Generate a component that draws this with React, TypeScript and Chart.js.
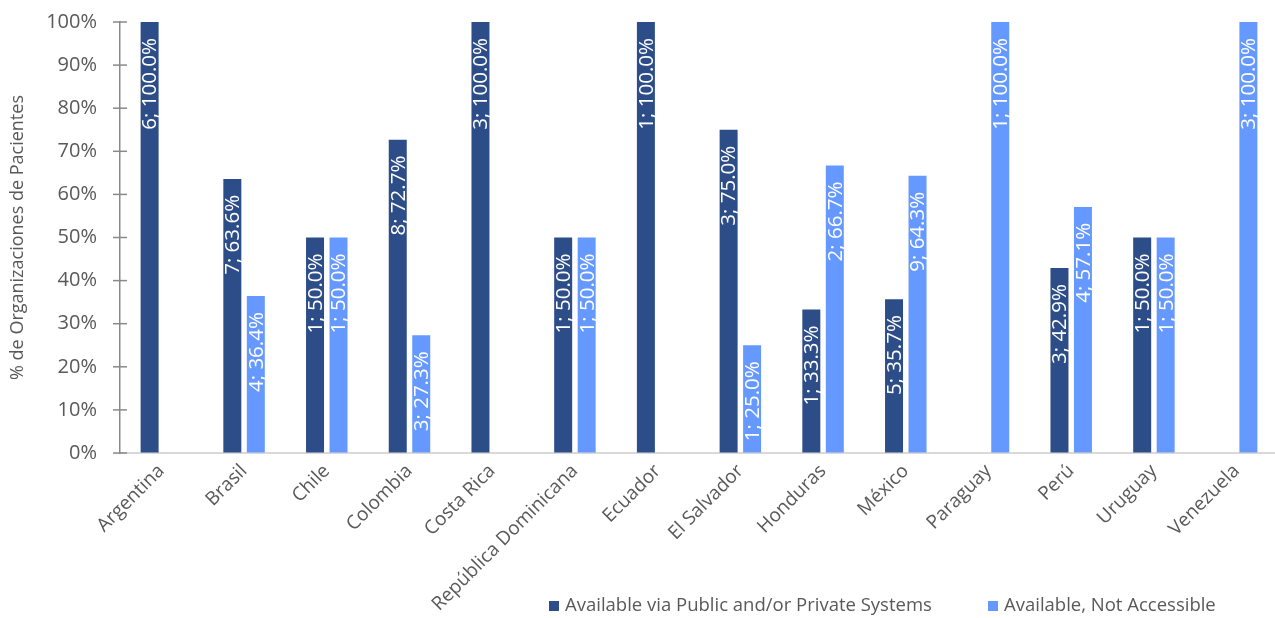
import React, { useEffect, useRef } from 'react';
import { Chart, registerables } from 'chart.js';

Chart.register(...registerables);

const countries = [
  'Argentina', 'Brasil', 'Chile', 'Colombia', 'Costa Rica', 'República Dominicana', 'Ecuador',
  'El Salvador', 'Honduras', 'México', 'Paraguay', 'Perú', 'Uruguay', 'Venezuela',
];
const publicPct = [100, 63.6, 50, 72.7, 100, 50, 100, 75, 33.3, 35.7, null, 42.9, 50, null];
const publicCount = [6, 7, 1, 8, 3, 1, 1, 3, 1, 5, null, 3, 1, null];
const notAccPct = [null, 36.4, 50, 27.3, null, 50, null, 25, 66.7, 64.3, 100, 57.1, 50, 100];
const notAccCount = [null, 4, 1, 3, null, 1, null, 1, 2, 9, 1, 4, 1, 3];
const seriesNames = ['Available via Public and/or Private Systems', 'Available, Not Accessible'];
const seriesColors = ['#2C4D87', '#6699FF'];
const seriesCounts = [publicCount, notAccCount];
const yMin = 0;
const yMax = 100;
const yStep = 10;
const yTitle = '% de Organizaciones de Pacientes';

const FONT = '"Open Sans", "Noto Sans", sans-serif';
const TEXT = '#595959';

const barLabels = {
  id: 'barLabels',
  afterDatasetsDraw(chart: any) {
    const ctx = chart.ctx;
    ctx.save();
    ctx.font = `20.5px ${FONT}`;
    ctx.fillStyle = '#ffffff';
    ctx.textAlign = 'right';
    ctx.textBaseline = 'middle';
    chart.data.datasets.forEach((ds: any, di: number) => {
      const meta = chart.getDatasetMeta(di);
      meta.data.forEach((bar: any, i: number) => {
        const v = ds.data[i];
        if (v == null) return;
        const text = `${seriesCounts[di][i]}; ${Number(v).toFixed(1)}%`;
        ctx.save();
        ctx.translate(bar.x + 1, bar.y + 16);
        ctx.rotate(-Math.PI / 2);
        ctx.fillText(text, 0, 0);
        ctx.restore();
      });
    });
    ctx.restore();
  },
};

const yTickMarks = {
  id: 'yTickMarks',
  afterDatasetsDraw(chart: any) {
    const ctx = chart.ctx;
    const ys = chart.scales.y;
    const x = chart.chartArea.left;
    ctx.save();
    ctx.strokeStyle = '#898989';
    ctx.lineWidth = 1.5;
    ys.ticks.forEach((t: any) => {
      const y = ys.getPixelForValue(t.value);
      ctx.beginPath();
      ctx.moveTo(x - 7, y);
      ctx.lineTo(x + 7, y);
      ctx.stroke();
    });
    ctx.restore();
  },
};

const bottomLegend = {
  id: 'bottomLegend',
  afterDraw(chart: any) {
    const ctx = chart.ctx;
    const starts = [549, 988];
    const y = 606;
    ctx.save();
    ctx.font = `18.5px ${FONT}`;
    ctx.textBaseline = 'middle';
    ctx.textAlign = 'left';
    chart.data.datasets.forEach((ds: any, i: number) => {
      ctx.fillStyle = ds.backgroundColor;
      ctx.fillRect(starts[i], y - 5, 10, 10);
      ctx.fillStyle = TEXT;
      ctx.fillText(ds.label, starts[i] + 16, y);
    });
    ctx.restore();
  },
};

export default function App() {
  const ref = useRef<HTMLCanvasElement | null>(null);

  useEffect(() => {
    if (!ref.current) return;
    const chart = new Chart(ref.current, {
      type: 'bar',
      data: {
        labels: countries,
        datasets: [
          {
            label: seriesNames[0],
            data: publicPct,
            backgroundColor: seriesColors[0],
            categoryPercentage: 0.568,
            barPercentage: 0.766,
          },
          {
            label: seriesNames[1],
            data: notAccPct,
            backgroundColor: seriesColors[1],
            categoryPercentage: 0.568,
            barPercentage: 0.766,
          },
        ],
      },
      options: {
        animation: false,
        responsive: false,
        layout: { padding: { top: 22, left: 0, right: 0, bottom: 0 } },
        plugins: {
          legend: { display: false },
          tooltip: { enabled: false },
        },
        scales: {
          x: {
            grid: { display: false, drawTicks: false },
            border: { display: true, color: '#D9D9D9', width: 2 },
            ticks: {
              font: { family: FONT, size: 19 },
              color: TEXT,
              minRotation: 45,
              maxRotation: 45,
              autoSkip: false,
              padding: 7,
            },
            afterFit: (s: any) => {
              s.height = 165;
            },
          },
          y: {
            min: yMin,
            max: yMax,
            grid: {
              display: true,
              color: 'rgba(0,0,0,0)',
              drawOnChartArea: false,
              drawTicks: true,
              tickLength: 16,
            },
            border: { display: true, color: '#898989', width: 1.5 },
            ticks: {
              stepSize: yStep,
              font: { family: FONT, size: 20 },
              color: TEXT,
              padding: 7,
              callback: (v: any) => `${v}%`,
            },
            title: {
              display: true,
              text: yTitle,
              font: { family: FONT, size: 18 },
              color: TEXT,
              padding: { top: 7, bottom: 0 },
            },
            afterFit: (s: any) => {
              s.width = 120;
            },
          },
        },
      },
      plugins: [barLabels, yTickMarks, bottomLegend],
    });
    return () => chart.destroy();
  }, []);

  return (
    <div style={{ position: 'fixed', left: 0, top: 0, width: 1278, height: 618, background: '#fff' }}>
      <canvas ref={ref} width={1278} height={618} style={{ display: 'block', width: 1278, height: 618 }} />
    </div>
  );
}
